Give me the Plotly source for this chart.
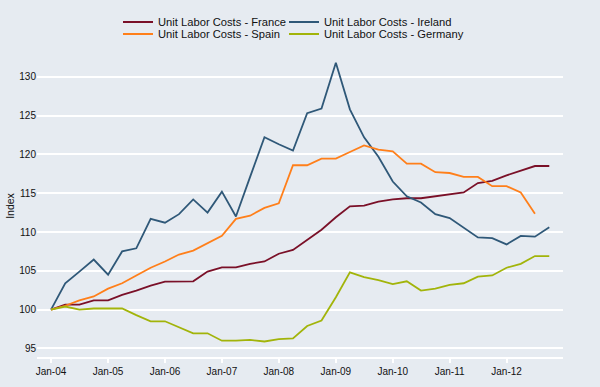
import pandas as pd
import plotly.graph_objects as go

dates = pd.date_range("2004-01-01", periods=36, freq="QS")

france = [100, 100.65, 100.65, 101.2, 101.2, 101.9, 102.45, 103.1, 103.6, 103.6,
          103.65, 104.9, 105.45, 105.45, 105.9, 106.2, 107.2, 107.7, 109.0, 110.3,
          111.9, 113.3, 113.4, 113.9, 114.2, 114.35, 114.35, 114.6, 114.8, 115.1,
          116.3, 116.6, 117.3, 117.9, 118.5, 118.5]
ireland = [100, 103.4, 104.9, 106.45, 104.5, 107.5, 107.9, 111.7, 111.2, 112.3,
           114.2, 112.5, 115.2, 112.0, 117.1, 122.2, 121.3, 120.5, 125.3, 125.9,
           131.8, 125.8, 122.2, 119.7, 116.5, 114.6, 113.8, 112.3, 111.8, 110.5,
           109.3, 109.2, 108.4, 109.5, 109.4, 110.6]
spain = [100, 100.5, 101.2, 101.7, 102.7, 103.4, 104.4, 105.4, 106.2, 107.1,
         107.6, 108.5, 109.5, 111.7, 112.1, 113.1, 113.7, 118.6, 118.6, 119.45,
         119.45, 120.3, 121.15, 120.6, 120.4, 118.8, 118.8, 117.7, 117.6, 117.1,
         117.1, 115.9, 115.9, 115.1, 112.35, None]
germany = [100, 100.4, 100.0, 100.15, 100.15, 100.15, 99.3, 98.5, 98.5, 97.7,
           96.95, 96.95, 96.0, 96.0, 96.1, 95.9, 96.2, 96.3, 97.9, 98.6,
           101.6, 104.8, 104.2, 103.8, 103.3, 103.65, 102.45, 102.7, 103.2, 103.4,
           104.25, 104.4, 105.4, 105.9, 106.9, 106.9]

names = ["Unit Labor Costs - France", "Unit Labor Costs - Ireland",
         "Unit Labor Costs - Spain", "Unit Labor Costs - Germany"]
values = [france, ireland, spain, germany]
colors = ["#7a1028", "#2f5878", "#ff7f1a", "#a2b40a"]
legend_ids = ["legend", "legend2", "legend3", "legend4"]
legend_pos = [(118, 22), (284, 22), (118, 34), (284, 34)]

bg = "#e6ebf1"
fig = go.Figure()
for name, vals, color, lg in zip(names, values, colors, legend_ids):
    fig.add_trace(go.Scatter(x=dates, y=vals, name=name, mode="lines",
                             line=dict(color=color, width=1.8), legend=lg,
                             connectgaps=False))

legend_font = dict(family="Liberation Sans, Arial, sans-serif", size=11.2, color="#111111")
legends = {}
for lg, (px, py) in zip(legend_ids, legend_pos):
    legends[lg] = dict(orientation="h", xref="container", yref="container",
                       xanchor="left", yanchor="middle", x=px / 600, y=1 - py / 387,
                       font=legend_font, bgcolor="rgba(0,0,0,0)", itemclick=False)

fig.update_layout(
    width=600, height=387,
    paper_bgcolor=bg, plot_bgcolor=bg,
    margin=dict(l=37, r=37, t=55, b=30, autoexpand=False),
    font=dict(family="Liberation Sans, Arial, sans-serif", size=10, color="#111111"),
    xaxis=dict(type="date", range=["2003-10-03", "2012-12-28"],
               tick0="2004-01-01", dtick="M12", tickformat="%b-%y",
               showgrid=False, showline=True, linecolor="white", linewidth=2,
               ticks="outside", tickcolor="white", ticklen=4, tickwidth=2,
               zeroline=False, tickfont=dict(size=10, color="#111111")),
    yaxis=dict(range=[93.9, 132.8], dtick=5, tick0=95, showgrid=True,
               gridcolor="white", gridwidth=1.5, zeroline=False,
               showline=False, ticks="",
               title=dict(text="Index", standoff=2, font=dict(size=10.5, color="#111111")),
               tickfont=dict(size=10, color="#111111")),
    showlegend=True,
    **legends,
)

fig.write_html("out.html", config={"displayModeBar": False},
               post_script="document.body.style.margin='0px';document.body.style.background='%s';" % bg)
